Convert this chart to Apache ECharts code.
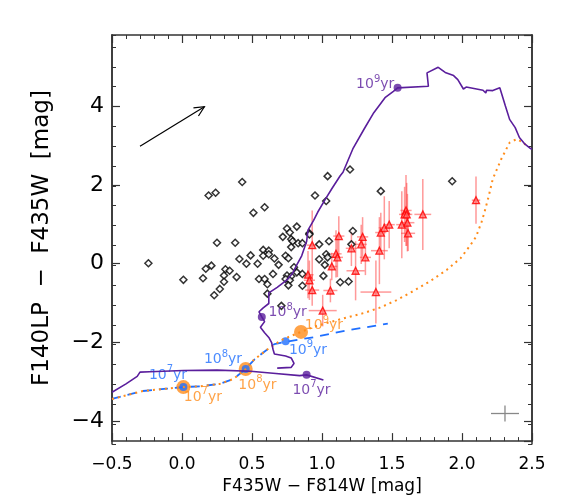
<!DOCTYPE html>
<html>
<head>
<meta charset="utf-8">
<script src="https://cdn.jsdelivr.net/npm/echarts@6/dist/echarts.min.js"></script>
<style>
  html, body { margin: 0; padding: 0; background: #fff; }
  #chart { width: 576px; height: 500px; }
</style>
</head>
<body>
<div id="chart"></div>
<script>
// cluster colours, black open diamonds
const diamonds = [
  [0.43, 2.07], [0.19, 1.73], [0.24, 1.80], [0.59, 1.43], [0.51, 1.29],
  [0.25, 0.53], [0.38, 0.53], [-0.24, 0.01], [0.58, 0.35], [0.62, 0.33],
  [0.49, 0.21], [0.58, 0.20], [0.41, 0.12], [0.46, 0.00], [0.54, 0.00],
  [0.21, -0.05], [0.17, -0.13], [0.31, -0.14], [0.34, -0.18], [0.01, -0.41],
  [0.15, -0.37], [0.30, -0.30], [0.39, -0.34], [0.30, -0.46], [0.27, -0.64],
  [0.23, -0.80], [0.55, -0.39], [0.59, -0.39], [0.61, -0.52], [1.04, 2.22],
  [1.20, 2.39], [1.42, 1.84], [1.93, 2.09], [0.95, 1.73], [1.03, 1.59],
  [0.82, 0.94], [0.75, 0.89], [0.77, 0.79], [0.72, 0.68], [0.78, 0.62],
  [0.79, 0.57], [0.91, 0.77], [0.91, 0.74], [0.83, 0.52], [0.86, 0.52],
  [0.98, 0.49], [1.05, 0.57], [0.78, 0.42], [0.62, 0.24], [0.74, 0.20],
  [0.76, 0.14], [0.66, 0.13], [0.69, -0.03], [0.98, 0.11], [1.03, 0.24],
  [1.04, 0.16], [1.02, -0.03], [0.80, -0.09], [0.82, -0.22], [0.86, -0.26],
  [0.65, -0.26], [0.75, -0.30], [0.78, -0.32], [0.74, -0.39], [0.77, -0.42],
  [0.76, -0.55], [0.86, -0.56], [1.01, -0.31], [1.13, -0.47], [1.19, -0.45],
  [0.61, -0.76], [1.22, 0.83], [1.21, 0.49], [0.71, -1.07]
];

// red clusters: x, y, x error, y error
const redPoints = [
  [0.93, 0.47, 0.04, 0.88], [1.12, 0.70, 0.04, 0.50], [1.10, 0.25, 0.04, 0.60],
  [1.11, 0.16, 0.04, 0.50], [1.07, -0.07, 0.04, 0.35], [0.90, -0.28, 0.04, 0.60],
  [0.91, -0.42, 0.04, 0.50], [0.93, -0.67, 0.05, 0.40], [1.06, -0.68, 0.05, 0.30],
  [1.005, -1.19, 0.10, 0.40], [1.385, -0.72, 0.11, 0.80], [1.21, 0.39, 0.04, 0.45],
  [1.29, 0.68, 0.04, 0.50], [1.28, 0.49, 0.04, 0.50], [1.31, 0.16, 0.04, 0.45],
  [1.24, -0.18, 0.065, 0.75], [1.41, 0.33, 0.06, 0.85], [1.42, 0.79, 0.04, 0.50],
  [1.445, 0.91, 0.04, 0.80], [1.48, 0.99, 0.04, 0.60], [1.57, 0.99, 0.04, 0.85],
  [1.60, 1.35, 0.04, 0.90], [1.59, 1.25, 0.04, 0.70], [1.605, 1.25, 0.04, 0.80],
  [1.61, 1.04, 0.05, 0.73], [1.615, 0.77, 0.05, 0.45], [1.72, 1.25, 0.06, 0.90],
  [2.10, 1.61, 0.03, 0.60]
];

// model tracks
const purpleYoung = [
  [-0.50, -3.26], [-0.40, -3.05], [-0.32, -2.86], [-0.30, -2.75], [-0.23, -2.74],
  [0.01, -2.71], [0.25, -2.70], [0.49, -2.73], [0.65, -2.78], [0.84, -2.84],
  [0.89, -2.82], [1.01, -2.95]
];
const purpleOld = [
  [0.68, -2.65], [0.78, -2.63], [0.80, -2.53], [0.78, -2.39], [0.74, -2.34],
  [0.66, -2.29], [0.65, -2.17], [0.64, -2.00], [0.62, -1.87], [0.59, -1.75],
  [0.56, -1.61], [0.59, -1.47], [0.57, -1.35], [0.55, -1.22], [0.58, -1.12],
  [0.62, -1.01], [0.62, -0.74], [0.68, -0.60], [0.75, -0.41], [0.79, -0.24],
  [0.82, -0.03], [0.855, 0.20], [0.89, 0.56], [0.90, 0.85], [0.94, 1.10],
  [0.97, 1.31], [1.02, 1.61], [1.07, 1.90], [1.13, 2.23], [1.15, 2.32],
  [1.22, 2.91], [1.30, 3.41], [1.37, 3.83], [1.45, 4.21], [1.51, 4.37],
  [1.54, 4.46], [1.76, 4.50], [1.75, 4.84], [1.83, 4.98], [1.88, 4.85],
  [1.94, 4.77], [1.97, 4.67], [2.01, 4.43], [2.03, 4.48], [2.15, 4.40],
  [2.17, 4.33], [2.175, 4.40], [2.22, 4.39], [2.27, 4.46], [2.31, 4.00],
  [2.34, 3.66], [2.38, 3.45], [2.41, 3.20], [2.45, 3.03], [2.49, 2.92],
  [2.50, 2.90]
];
const orangeTrack = [
  [-0.50, -3.43], [-0.40, -3.34], [-0.28, -3.23], [-0.11, -3.17], [0.01, -3.13],
  [0.13, -3.11], [0.27, -3.05], [0.37, -2.92], [0.455, -2.67], [0.51, -2.45],
  [0.63, -2.12], [0.72, -1.92], [0.85, -1.73], [0.96, -1.58], [1.12, -1.42],
  [1.30, -1.25], [1.41, -1.12], [1.53, -0.93], [1.65, -0.70], [1.77, -0.45],
  [1.89, -0.16], [1.99, 0.14], [2.06, 0.47], [2.10, 0.68], [2.14, 1.06],
  [2.16, 1.30], [2.19, 1.70], [2.22, 2.15], [2.28, 2.65], [2.34, 3.07],
  [2.39, 3.16], [2.44, 3.07], [2.47, 2.95]
];
const blueTrack = [
  [-0.50, -3.43], [-0.40, -3.34], [-0.28, -3.23], [-0.11, -3.17], [0.01, -3.13],
  [0.13, -3.11], [0.27, -3.05], [0.37, -2.92], [0.455, -2.67], [0.52, -2.42],
  [0.66, -2.04], [0.74, -1.98], [0.95, -1.86], [1.18, -1.69], [1.32, -1.61],
  [1.47, -1.52]
];

// age marks on the tracks
const purpleDots = [[0.89, -2.82], [0.57, -1.35], [1.54, 4.46]];
const orangeDots = [[0.01, -3.13], [0.455, -2.67], [0.85, -1.73]];
const blueDots = [[0.01, -3.13], [0.455, -2.67], [0.74, -1.97]];

// age labels: x, y, power of ten, colour
const ageLabels = [
  [1.38, 4.54, '9', '#5a1e9c'], [0.755, -1.245, '8', '#5a1e9c'], [0.925, -3.21, '7', '#5a1e9c'],
  [-0.10, -2.83, '7', '#1f6fff'], [0.293, -2.43, '8', '#1f6fff'], [0.90, -2.19, '9', '#1f6fff'],
  [0.149, -3.38, '7', '#ff8c1a'], [0.539, -3.08, '8', '#ff8c1a'], [1.014, -1.57, '9', '#ff8c1a']
];

// reddening arrow and typical error cross
const reddening = [[-0.30, 2.98, 0.16, 3.98]];
const typicalError = [[2.307, -3.80, 0.10, 0.20]];

const frame = '#333';
const purple = '#5a1e9c';
const orange = '#ff8c1a';
const blue = '#1f6fff';
const minus = v => String(v).replace('-', '\u2212');

const chart = echarts.init(document.getElementById('chart'));

const plotBox = { left: 112, right: 44, top: 35, bottom: 56 };

const xBase = {
  type: 'value', min: -0.5, max: 2.5, interval: 0.5,
  axisLine: { show: true, onZero: false, lineStyle: { color: frame, width: 1.5 } },
  axisTick: { show: true, inside: true, length: 8, lineStyle: { color: frame, width: 1.2 } },
  minorTick: { show: true, splitNumber: 5, length: 4, lineStyle: { color: frame, width: 1 } },
  splitLine: { show: false }
};
// major y ticks fall every 2 (the axis' own nice step), minor every 0.5 on a twin grid
const yBase = {
  type: 'value', min: -4.5, max: 5.8,
  axisLine: { show: true, onZero: false, lineStyle: { color: frame, width: 1.5 } },
  axisTick: { show: true, inside: true, length: 8, lineStyle: { color: frame, width: 1.2 } },
  splitLine: { show: false }
};
const yMinorAxis = {
  type: 'value', min: -4.5, max: 5.8, interval: 0.5, gridIndex: 1,
  axisLine: { show: true, onZero: false, lineStyle: { color: frame, width: 1.5 } },
  axisTick: { show: true, inside: true, length: 4, lineStyle: { color: frame, width: 1 } },
  axisLabel: { show: false },
  splitLine: { show: false }
};

const option = {
  animation: false,
  backgroundColor: '#fff',
  textStyle: { fontFamily: 'DejaVu Sans' },
  grid: [Object.assign({}, plotBox), Object.assign({}, plotBox)],
  xAxis: [
    Object.assign({}, xBase, {
      position: 'bottom',
      axisLabel: { fontSize: 17, color: '#000', margin: 15, formatter: v => minus(v.toFixed(1)) },
      name: 'F435W \u2212 F814W [mag]',
      nameLocation: 'middle',
      nameGap: 34,
      nameTextStyle: { fontSize: 17, color: '#000' }
    }),
    Object.assign({}, xBase, { position: 'top', axisLabel: { show: false } }),
    { type: 'value', min: -0.5, max: 2.5, gridIndex: 1, show: false }
  ],
  yAxis: [
    Object.assign({}, yBase, {
      position: 'left',
      axisLabel: {
        fontSize: 22, color: '#000', margin: 8,
        showMinLabel: false, showMaxLabel: false,
        formatter: v => minus(v)
      },
      name: 'F140LP  \u2212  F435W  [mag]',
      nameLocation: 'middle',
      nameGap: 58,
      nameTextStyle: { fontSize: 23, color: '#000' }
    }),
    Object.assign({}, yBase, { position: 'right', axisLabel: { show: false } }),
    Object.assign({}, yMinorAxis, { position: 'left' }),
    Object.assign({}, yMinorAxis, { position: 'right' })
  ],
  series: [
    {
      type: 'scatter',
      data: diamonds,
      symbol: 'diamond',
      symbolSize: 7,
      itemStyle: { color: '#fff', borderColor: '#000', borderWidth: 1.5 },
      silent: true
    },
    {
      type: 'custom',
      data: redPoints,
      clip: true,
      silent: true,
      renderItem: (params, api) => {
        const x = api.value(0), y = api.value(1), ex = api.value(2), ey = api.value(3);
        const l = api.coord([x - ex, y]), r = api.coord([x + ex, y]);
        const t = api.coord([x, y + ey]), b = api.coord([x, y - ey]);
        const style = { stroke: 'rgba(255,70,70,0.55)', lineWidth: 1.5 };
        return {
          type: 'group',
          children: [
            { type: 'line', shape: { x1: l[0], y1: l[1], x2: r[0], y2: r[1] }, style },
            { type: 'line', shape: { x1: t[0], y1: t[1], x2: b[0], y2: b[1] }, style }
          ]
        };
      }
    },
    {
      type: 'scatter',
      data: redPoints.map(p => [p[0], p[1]]),
      symbol: 'triangle',
      symbolSize: 7,
      itemStyle: { color: 'rgba(255,110,110,0.9)', borderColor: '#ff0000', borderWidth: 1.3 },
      silent: true
    },
    {
      type: 'line', data: blueTrack, showSymbol: false, silent: true,
      lineStyle: { color: blue, width: 1.8, type: [9, 7] }
    },
    {
      type: 'line', data: orangeTrack, showSymbol: false, silent: true,
      lineStyle: { color: orange, width: 2, type: [2, 4] }
    },
    {
      type: 'line', data: purpleYoung, showSymbol: false, silent: true,
      lineStyle: { color: purple, width: 1.6 }
    },
    {
      type: 'line', data: purpleOld, showSymbol: false, silent: true,
      lineStyle: { color: purple, width: 1.6 }
    },
    {
      type: 'scatter', data: purpleDots, symbolSize: 8, silent: true,
      itemStyle: { color: purple }
    },
    {
      type: 'scatter', data: orangeDots, symbolSize: 14, silent: true,
      itemStyle: { color: orange }
    },
    {
      type: 'scatter', data: blueDots, symbolSize: 8, silent: true,
      itemStyle: { color: blue }
    },
    {
      type: 'custom',
      data: reddening,
      silent: true,
      renderItem: (params, api) => {
        const p0 = api.coord([api.value(0), api.value(1)]);
        const p1 = api.coord([api.value(2), api.value(3)]);
        const a = Math.atan2(p1[1] - p0[1], p1[0] - p0[0]);
        const h = 11, s = 0.45;
        const w1 = [p1[0] - h * Math.cos(a - s), p1[1] - h * Math.sin(a - s)];
        const w2 = [p1[0] - h * Math.cos(a + s), p1[1] - h * Math.sin(a + s)];
        const style = { stroke: '#000', lineWidth: 1.2, fill: null };
        return {
          type: 'group',
          children: [
            { type: 'line', shape: { x1: p0[0], y1: p0[1], x2: p1[0], y2: p1[1] }, style },
            { type: 'polyline', shape: { points: [w1, p1, w2] }, style }
          ]
        };
      }
    },
    {
      type: 'custom',
      data: typicalError,
      silent: true,
      renderItem: (params, api) => {
        const x = api.value(0), y = api.value(1), ex = api.value(2), ey = api.value(3);
        const l = api.coord([x - ex, y]), r = api.coord([x + ex, y]);
        const t = api.coord([x, y + ey]), b = api.coord([x, y - ey]);
        const style = { stroke: '#888', lineWidth: 1.3 };
        return {
          type: 'group',
          children: [
            { type: 'line', shape: { x1: l[0], y1: l[1], x2: r[0], y2: r[1] }, style },
            { type: 'line', shape: { x1: t[0], y1: t[1], x2: b[0], y2: b[1] }, style }
          ]
        };
      }
    },
    {
      type: 'scatter',
      symbolSize: 0,
      silent: true,
      data: ageLabels.map(d => ({
        value: [d[0], d[1]],
        label: {
          show: true,
          position: 'inside',
          color: d[3],
          formatter: '{n|10}{s|' + d[2] + '}{n|yr}',
          rich: {
            n: { fontSize: 14, lineHeight: 21, color: d[3], fontFamily: 'DejaVu Sans' },
            s: { fontSize: 10, verticalAlign: 'top', color: d[3], fontFamily: 'DejaVu Sans' }
          }
        }
      }))
    }
  ]
};

chart.setOption(option);
</script>
</body>
</html>
